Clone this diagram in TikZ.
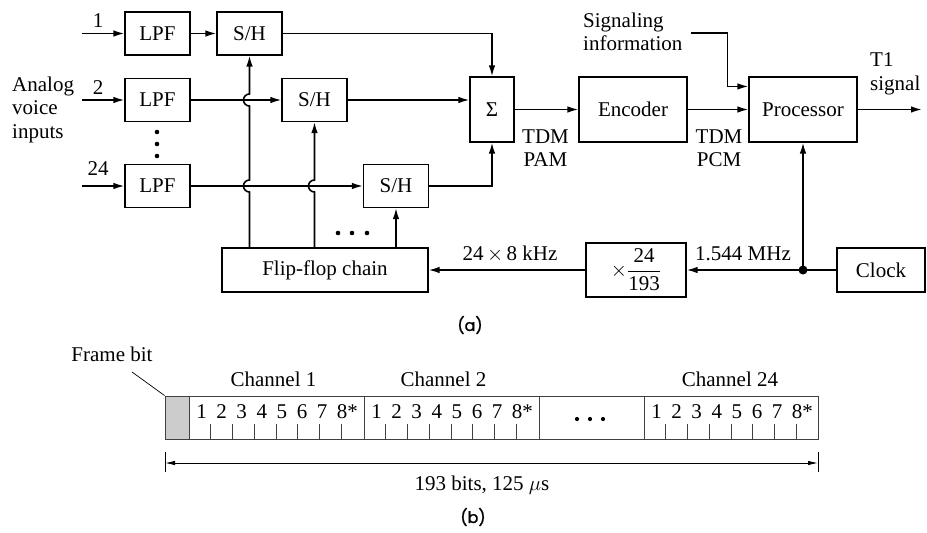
\documentclass[tikz,border=0pt]{standalone}
\usepackage{fontspec}
\setmainfont{Liberation Serif}
\newfontfamily\capfont{Poppins}[FakeBold=1.2]
\usetikzlibrary{arrows.meta,calc}

\tikzset{
  box/.style={draw,line width=1.1pt,inner sep=0pt,minimum width=65pt,minimum height=43pt},
  wire/.style={line width=1.6pt},
  arr/.style={wire,-{Latex[length=11pt,width=6.5pt]}},
  slot/.style={draw=black!75,line width=1pt,inner sep=0pt,minimum height=43pt},
  txt/.style={inner sep=0pt},
}

\begin{document}
\begin{tikzpicture}[x=1pt,y=-1pt,font=\fontsize{21}{23.5}\selectfont]
\useasboundingbox (0,0) rectangle (927,533);

\node[box] (lpf1) at (157.5,33.5) {LPF};
\node[box] (sh1) at (249.5,33.5) {S/H};
\node[box] (lpf2) at (157.5,100) {LPF};
\node[box] (sh2) at (314.5,100) {S/H};
\node[box] (lpf24) at (157.5,186) {LPF};
\node[box] (sh24) at (396,186) {S/H};
\node[box,minimum width=44pt,minimum height=65pt] (sum) at (492,109.5) {Σ};
\node[box,minimum width=108pt,minimum height=65pt] (enc) at (633,109.5) {Encoder};
\node[box,minimum width=108pt,minimum height=65pt] (proc) at (803,109.5) {Processor};
\node[box,minimum width=206pt,minimum height=44pt] (ffc) at (325,270) {Flip-flop chain};
\node[box,minimum width=100pt,minimum height=54pt] (div) at (636,270) {$\displaystyle\times\frac{\mbox{24}}{\mbox{193}}$};
\node[box,minimum width=88pt,minimum height=44pt] (clk) at (881,270) {Clock};

\node[txt,align=left,anchor=west] (analog) at (12,109.6) {Analog\\voice\\inputs};
\node[txt] (n1) at (98,21) {1};
\node[txt] (n2) at (98,87.5) {2};
\node[txt] (n24) at (98,169) {24};
\coordinate (in1) at (82,33.5);
\coordinate (in2) at (82,100);
\coordinate (in24) at (82,186);
\draw[arr] (in1) -- (lpf1.west);
\draw[arr] (in2) -- (lpf2.west);
\draw[arr] (in24) -- (lpf24.west);
\foreach \y in {132,144,156} \fill (157,\y) circle (2.3);

\draw[arr] (lpf1.east) -- (sh1.west);
\draw[arr] (lpf2.east) -- (sh2.west);
\draw[arr] (lpf24.east) -- (sh24.west);

\draw[arr] (sh1.south |- ffc.north) -- ($(sh1.south |- lpf24.east)+(0,6)$)
  arc[start angle=90,end angle=270,radius=6] -- ($(sh1.south |- lpf2.east)+(0,6)$)
  arc[start angle=90,end angle=270,radius=6] -- (sh1.south);
\draw[arr] (sh2.south |- ffc.north) -- ($(sh2.south |- lpf24.east)+(0,6)$)
  arc[start angle=90,end angle=270,radius=6] -- (sh2.south);
\draw[arr] (sh24.south |- ffc.north) -- (sh24.south);
\foreach \x in {338,352,367} \fill (\x,233) circle (2.3);

\draw[arr] (sh1.east) -| (sum.north);
\draw[arr] (sh2.east) -- (sh2.east -| sum.west);
\draw[arr] (sh24.east) -| (sum.south);
\draw[arr] (sum.east) -- (enc.west);
\draw[arr] (enc.east) -- (proc.west);
\coordinate (t1) at (922,109.5);
\draw[arr] (proc.east) -- (t1);

\node[txt,align=center] (pam) at (545.5,148) {TDM\\PAM};
\node[txt,align=center] (pcm) at (719,148) {TDM\\PCM};
\node[txt,align=left,anchor=west] (t1lbl) at (870,74) {T1\\signal};
\node[txt,align=left,anchor=west] (siglbl) at (583,32) {Signaling\\information};
\coordinate (sig) at (691,33);
\coordinate (sigin) at ($(proc.north west)+(0,10)$);
\draw[arr] (sig) -| ($(sigin)+(-21,0)$) -- (sigin);

\coordinate (tap) at (proc.south |- clk.west);
\draw[arr] (clk.west) -- (div.east);
\draw[arr] (tap) -- (proc.south);
\fill (tap) circle (4.5);
\draw[arr] (div.west) -- (ffc.east);
\node[txt] (mhz) at (743,254) {1.544 MHz};
\node[txt] (khz) at (510,254) {24\,$\times$\,8 kHz};

\node[txt,font=\capfont\fontsize{16}{18}\selectfont] (capa) at (470,325) {(a)};

\node[slot,fill=black!20,minimum width=24pt] (fb) at (177,417.5) {};
\node[slot,minimum width=175pt] (ch1) at (276.5,417.5) {};
\node[slot,minimum width=175pt] (ch2) at (451.5,417.5) {};
\node[slot,minimum width=105pt] (chd) at (591.5,417.5) {};
\node[slot,minimum width=174pt] (ch24) at (731,417.5) {};
\node[txt,anchor=base] (ch1lbl) at ($(ch1.north)+(-3,-9)$) {Channel 1};
\node[txt,anchor=base] (ch2lbl) at ($(ch2.north)+(-8,-9)$) {Channel 2};
\node[txt,anchor=base] (ch24lbl) at ($(ch24.north)+(-1,-9)$) {Channel 24};
\foreach \c in {ch1,ch2,ch24} {
  \foreach \k in {1,...,8}
    \node[txt,anchor=base] (\c-\k) at ($(\c.north west)+(13+20.1*\k-20.1,23)$) {\k\ifnum\k=8\rlap{*}\fi};
  \foreach \k in {1,...,7}
    \draw[draw=black!75,line width=0.8pt] ($(\c.south west)+(21.85*\k,0)$) -- ++(0,-16);
}
\foreach \x in {577,590,603} \fill (\x,419) circle (2.1);

\node[txt,anchor=base] (fblbl) at (112,361) {Frame bit};
\draw[line width=0.7pt] (132,372) -- (fb.north west);

\coordinate (dl) at (165,463);
\coordinate (dr) at (818,463);
\draw[line width=0.9pt] (165,452) -- (165,472);
\draw[line width=0.9pt] (818,452) -- (818,472);
\draw[line width=0.9pt,{Latex[length=10pt,width=4.5pt]}-{Latex[length=10pt,width=4.5pt]}] (dl) -- (dr);
\node[txt,anchor=base] (bits) at (482,490) {193 bits, 125 $\mu$s};

\node[txt,font=\capfont\fontsize{16}{18}\selectfont] (capb) at (473,517) {(b)};
\end{tikzpicture}
\end{document}
